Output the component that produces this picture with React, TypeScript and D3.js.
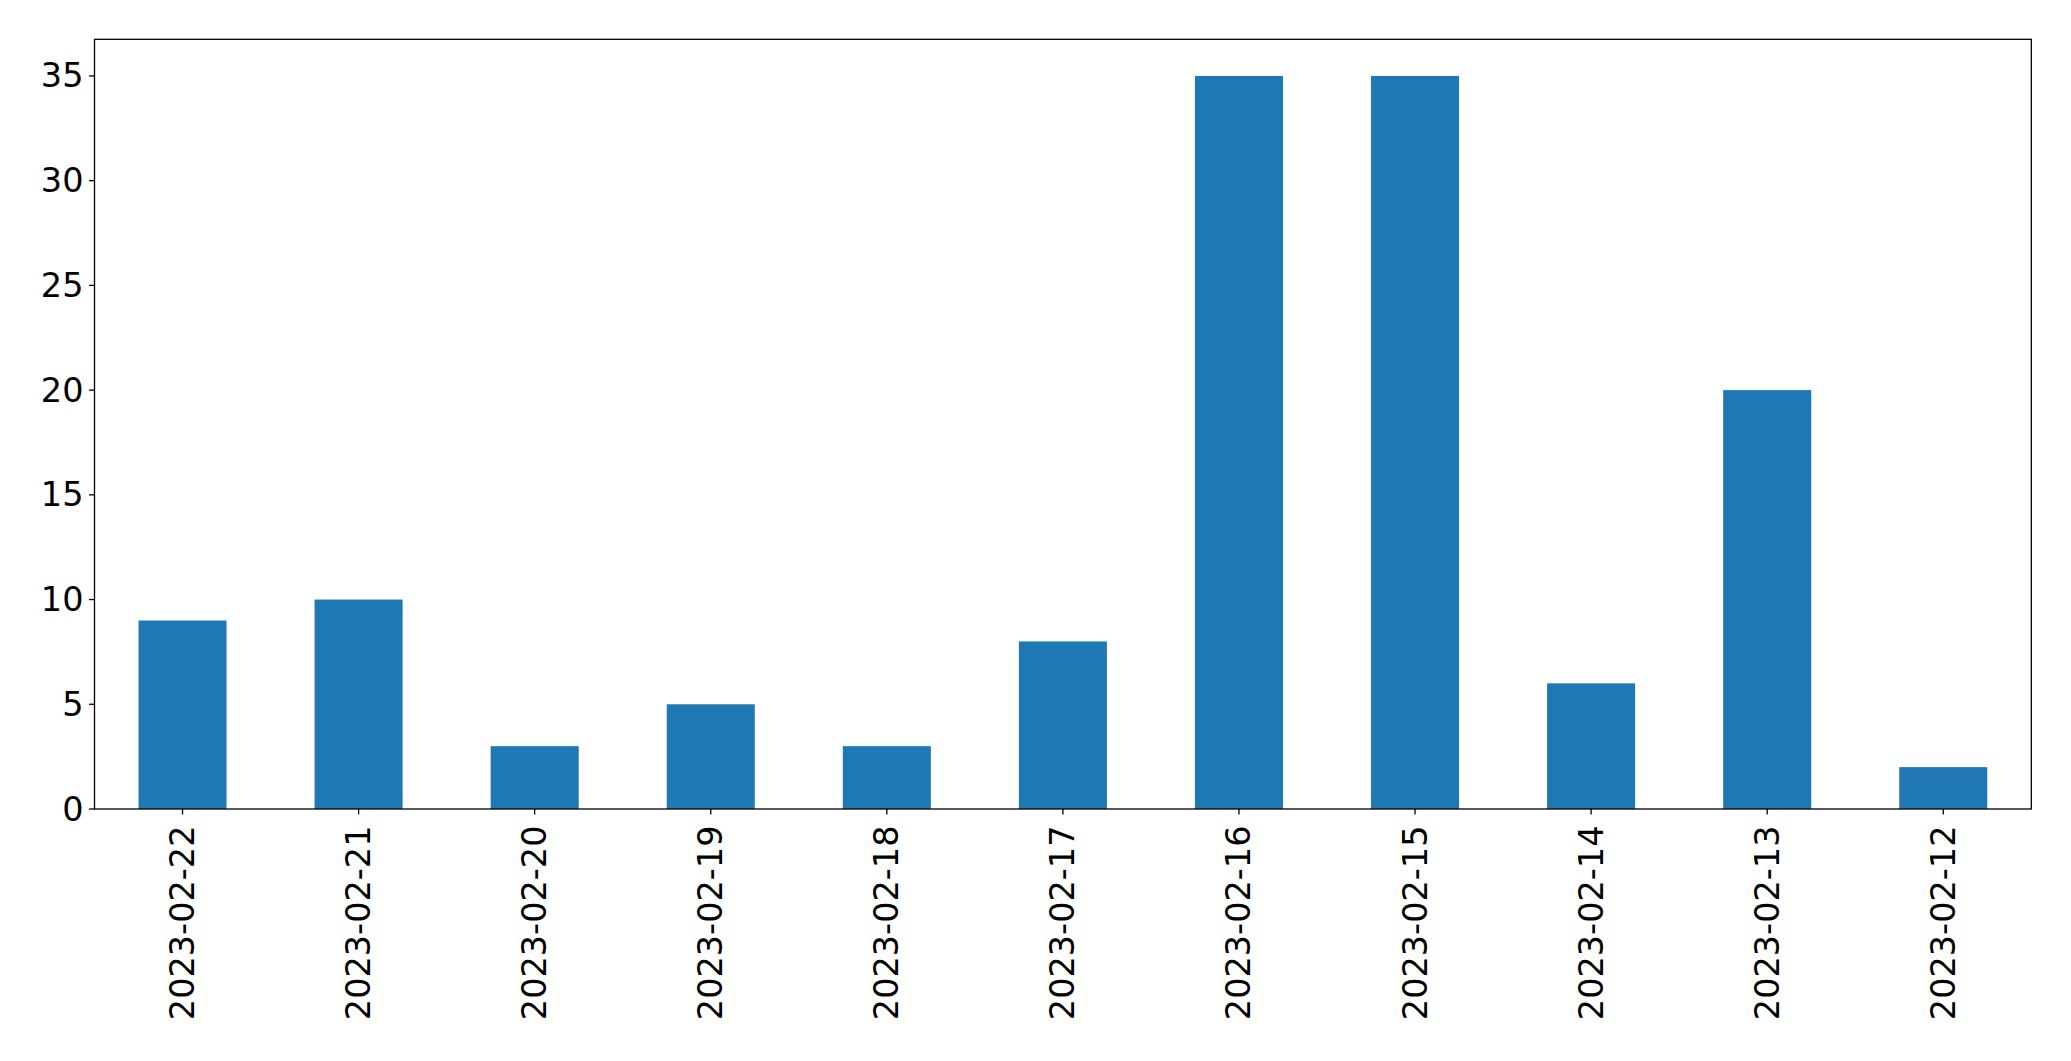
import React from "react";
import * as d3 from "d3";

const categories = ["2023-02-22","2023-02-21","2023-02-20","2023-02-19","2023-02-18","2023-02-17","2023-02-16","2023-02-15","2023-02-14","2023-02-13","2023-02-12"];
const values = [9, 10, 3, 5, 3, 8, 35, 35, 6, 20, 2];
const yTicks = [0, 5, 10, 15, 20, 25, 30, 35];

const W = 2071, H = 1061;
const L = 94.5, R = 2031.3, T = 39.3, B = 809;
const FONT = "DejaVu Sans, sans-serif";
const FS = 33.5;

export default function App() {
  const x = d3.scaleBand<string>().domain(categories).range([L, R]).paddingInner(0.5).paddingOuter(0.25);
  const y = d3.scaleLinear().domain([0, 36.75]).range([B, T]);
  const tickLen = 5.5;
  return (
    <svg width={W} height={H} style={{ position: "absolute", left: 0, top: 0, background: "#fff" }}>
      {categories.map((c, i) => (
        <rect key={c} x={x(c)!} y={y(values[i])} width={x.bandwidth()} height={y(0) - y(values[i])} fill="#1f77b4" />
      ))}
      <rect x={L} y={T} width={R - L} height={B - T} fill="none" stroke="#000" strokeWidth={1.3} />
      {yTicks.map((t) => (
        <g key={t}>
          <line x1={L - tickLen} x2={L} y1={y(t)} y2={y(t)} stroke="#000" strokeWidth={1.3} />
          <text x={L - tickLen - 5.5} y={y(t)} textAnchor="end" dominantBaseline="central" fontFamily={FONT} fontSize={FS} fill="#000">{t}</text>
        </g>
      ))}
      {categories.map((c) => {
        const cx = x(c)! + x.bandwidth() / 2;
        return (
          <g key={c}>
            <line x1={cx} x2={cx} y1={B} y2={B + tickLen} stroke="#000" strokeWidth={1.3} />
            <text transform={`translate(${cx},${B + tickLen + 11}) rotate(-90)`} textAnchor="end" dominantBaseline="central" fontFamily={FONT} fontSize={FS} fill="#000">{c}</text>
          </g>
        );
      })}
    </svg>
  );
}
